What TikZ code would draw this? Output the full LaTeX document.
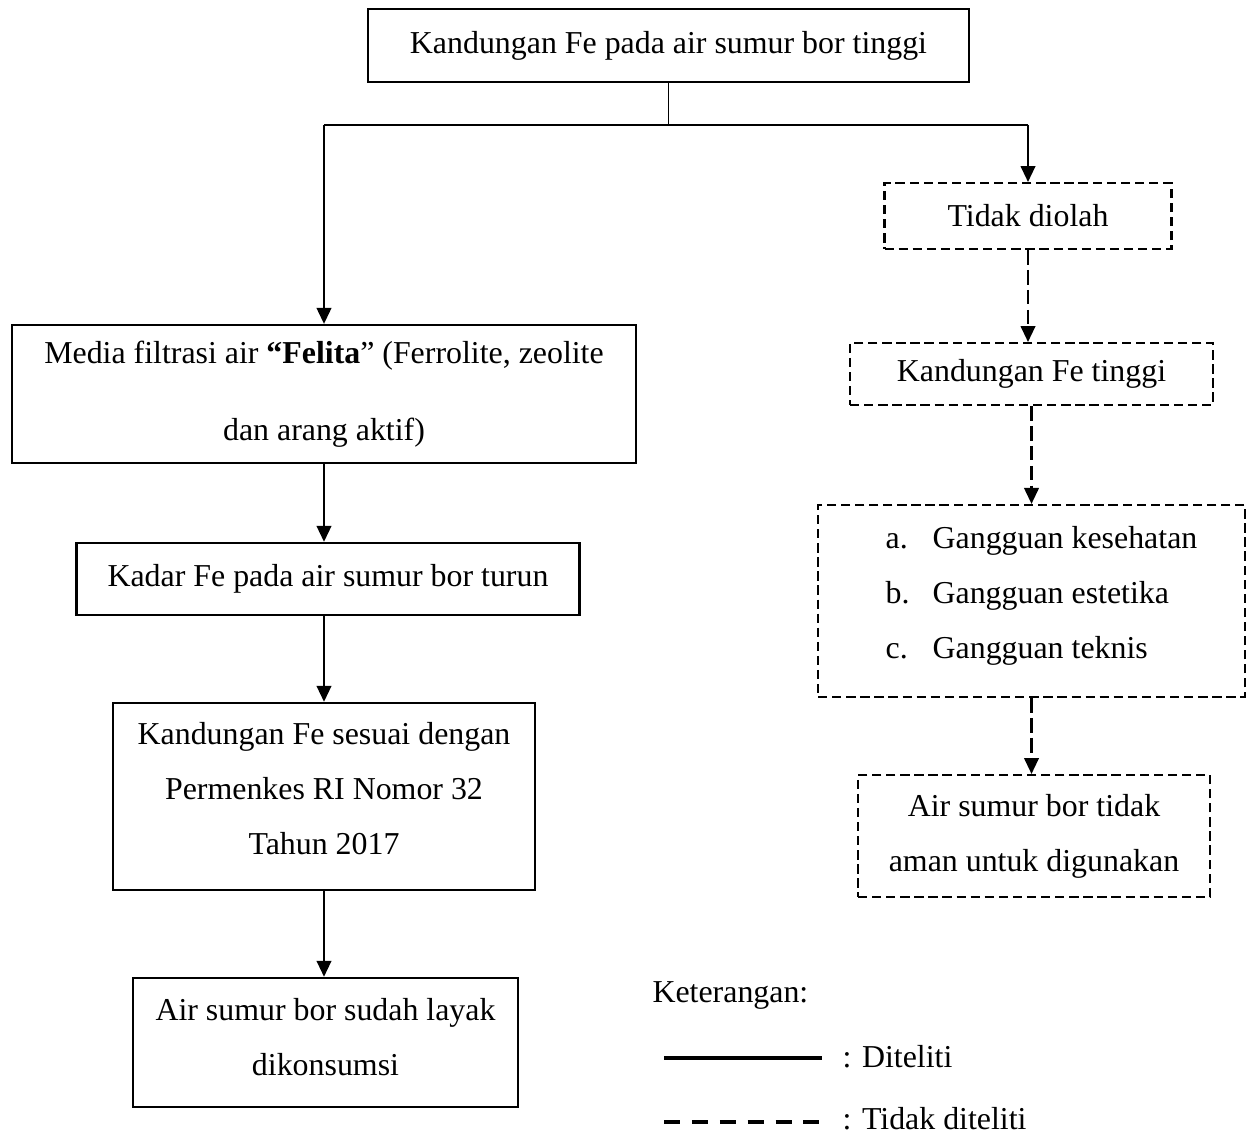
\documentclass[tikz,border=0pt]{standalone}
\usepackage{fontspec}
\setmainfont{Liberation Serif}
\usetikzlibrary{arrows.meta, positioning, calc}

% extra depth on a last line, lifts the text in its box
\newcommand{\liftby}[1]{\rule[-#1]{0pt}{0pt}}

\begin{document}
\begin{tikzpicture}[
    x=0.3764pt, y=-0.3764pt,
    box/.style={
        rectangle,
        draw=black,
        line width=0.9pt,
        inner sep=0pt,
        align=center,
        font=\fontsize{12pt}{20.7pt}\selectfont
    },
    dashbox/.style={
        box,
        line width=0.8pt,
        dash pattern=on 3.5pt off 1.8pt
    },
    arrow/.style={
        line width=0.8pt,
        -{Triangle[length=6pt, width=5.5pt]}
    },
    dasharrow/.style={
        arrow,
        dash pattern=on 5.5pt off 2pt
    },
    stem/.style={
        line width=0.5pt
    },
    legendtext/.style={
        anchor=west,
        inner sep=0pt,
        font=\fontsize{12pt}{14pt}\selectfont
    }
]

\useasboundingbox (0,0) rectangle (1247,1133);

% Top node
\node[box, minimum width=226.2pt, minimum height=27.5pt] (kandungan) at (668.5,45.5) {Kandungan Fe pada air sumur bor tinggi};

% Left column (diteliti)
\node[box, minimum width=234.9pt, minimum height=51.9pt, font=\fontsize{12pt}{29pt}\selectfont] (media) at (324,394) {Media filtrasi air \textbf{“Felita}” (Ferrolite, zeolite\\dan arang aktif)};

\node[box, minimum width=189.3pt, minimum height=27.1pt] (kadar) at (328,579) {Kadar Fe pada air sumur bor turun};

\node[box, minimum width=158.8pt, minimum height=70.4pt] (sesuai) at (324,796.5) {Kandungan Fe sesuai dengan\\Permenkes RI Nomor 32\\Tahun 2017\liftby{6pt}};

\node[box, minimum width=144.9pt, minimum height=48.6pt] (layak) at (325.5,1042.5) {Air sumur bor sudah layak\\dikonsumsi\liftby{4.5pt}};

% Right column (tidak diteliti)
\node[dashbox, minimum width=108pt, minimum height=24.8pt] (diolah) at (1028,216) {Tidak diolah};

\node[dashbox, minimum width=136.6pt, minimum height=23.3pt] (tinggi) at (1031.5,374) {Kandungan Fe tinggi};

\node[dashbox, minimum width=160.7pt, minimum height=72.3pt, align=left] (gangguan) at (1031.5,601) {\hspace*{7.5pt}\makebox[17.7pt][l]{a.}Gangguan kesehatan\\\hspace*{7.5pt}\makebox[17.7pt][l]{b.}Gangguan estetika\\\hspace*{7.5pt}\makebox[17.7pt][l]{c.}Gangguan teknis\liftby{6.8pt}};

\node[dashbox, minimum width=132.5pt, minimum height=45.9pt] (aman) at (1034,836) {Air sumur bor tidak\\aman untuk digunakan};

% Legend
\node[legendtext] (keterangan) at (652,995) {Keterangan:};
\coordinate (solidstart) at (664,1058);
\coordinate (solidend) at (822,1058);
\node[legendtext] (diteliti) at (842,1057) {: Diteliti};
\coordinate (dashstart) at (664,1122);
\coordinate (dashend) at (822,1122);
\node[legendtext] (tidakditeliti) at (842,1119) {: Tidak diteliti};

% Fork from the top node
\coordinate (fork) at (668.5,125);
\coordinate (forkleft) at (media.north |- fork);
\coordinate (forkright) at (diolah.north |- fork);
\draw[stem] (kandungan.south) -- (fork);
\draw[stem] (forkleft) -- (forkright);
\draw[arrow] (forkleft) -- (media.north);
\draw[arrow] (forkright) -- (diolah.north);

% Left flow
\draw[arrow] (media.south) -- (media.south |- kadar.north);
\draw[arrow] (media.south |- kadar.south) -- (media.south |- sesuai.north);
\draw[arrow] (sesuai.south) -- (sesuai.south |- layak.north);

% Right flow
\draw[dasharrow] (diolah.south) -- (diolah.south |- tinggi.north);
\draw[dasharrow] (tinggi.south) -- (tinggi.south |- gangguan.north);
\draw[dasharrow] (gangguan.south) -- (gangguan.south |- aman.north);

% Legend lines
\draw[line width=1.5pt] (solidstart) -- (solidend);
\draw[line width=1.5pt, dash pattern=on 6pt off 4.5pt] (dashstart) -- (dashend);

\end{tikzpicture}
\end{document}
